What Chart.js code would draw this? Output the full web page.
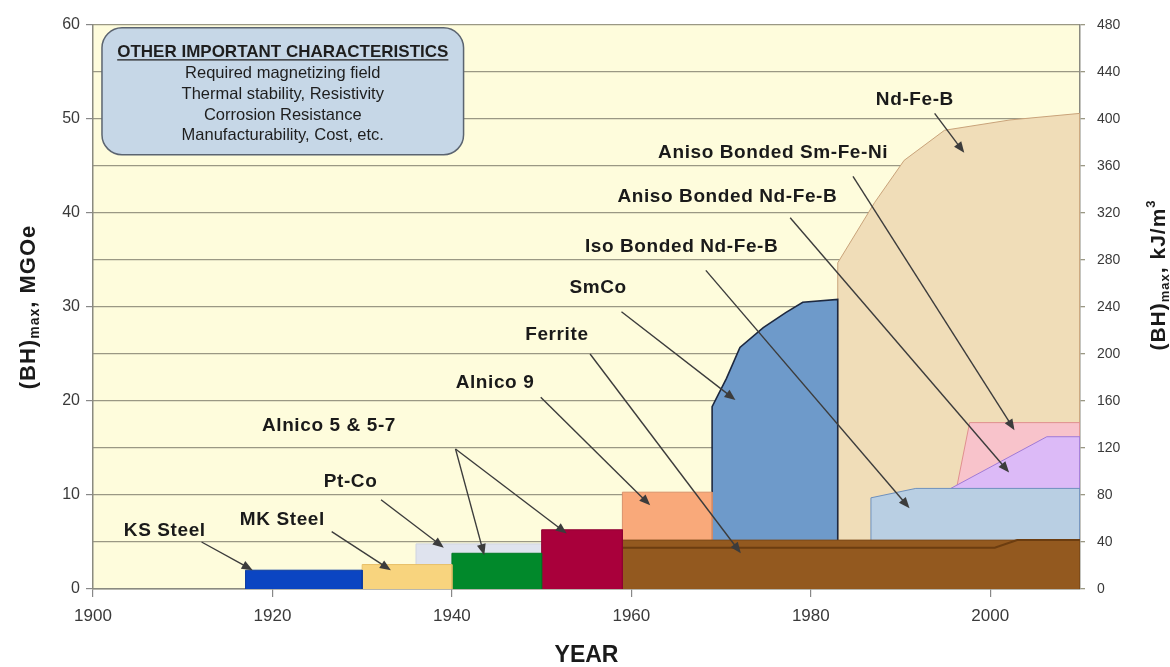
<!DOCTYPE html>
<html>
<head>
<meta charset="utf-8">
<script src="https://cdn.jsdelivr.net/npm/chart.js@4/dist/chart.umd.min.js"></script>
<style>
  html, body { margin: 0; padding: 0; background: #fff; }
</style>
</head>
<body>
<canvas id="chart" width="1170" height="667"></canvas>
<script>
// axis ticks
const xTicks = [1900, 1920, 1940, 1960, 1980, 2000];
const leftTicks = [0, 10, 20, 30, 40, 50, 60];
const rightTicks = [0, 40, 80, 120, 160, 200, 240, 280, 320, 360, 400, 440, 480];

// material regions: year / (BH)max in MGOe
const ksSteelYear = [1917, 1917, 1930, 1930];
const ksSteelBH   = [0, 2.0, 2.0, 0];
const mkSteelYear = [1930, 1930, 1940, 1940];
const mkSteelBH   = [0, 2.6, 2.6, 0];
const ptCoYear = [1936, 1936, 1950, 1950];
const ptCoBH   = [0, 4.8, 4.8, 0];
const alnico5Year = [1940, 1940, 1950, 1950];
const alnico5BH   = [0, 3.8, 3.8, 0];
const alnico57Year = [1950, 1950, 1959, 1959];
const alnico57BH   = [0, 6.3, 6.3, 0];
const alnico9Year = [1959, 1959, 1969, 1969];
const alnico9BH   = [0, 10.3, 10.3, 0];
const ferriteYear = [1959, 1959, 2010, 2010];
const ferriteBH   = [0, 5.2, 5.2, 0];
const ferriteLineYear = [1959, 2000.5, 2003, 2010];
const ferriteLineBH   = [4.4, 4.4, 5.2, 5.2];
const smcoYear = [1969, 1969, 1970.6, 1972.1, 1974.7, 1977.2, 1979.1, 1983, 1983];
const smcoBH   = [0, 19.4, 22.4, 25.7, 27.8, 29.4, 30.5, 30.8, 0];
const ndfebYear = [1983, 1983, 1987.1, 1990.4, 1994.9, 2002.2, 2010, 2010];
const ndfebBH   = [0, 34.7, 41.1, 45.6, 48.8, 49.9, 50.6, 0];
const isoYear = [1986.7, 1986.7, 1991.7, 2010, 2010];
const isoBH   = [0, 9.7, 10.7, 10.7, 0];
const anisoNdYear = [1995.6, 2006.3, 2010, 2010];
const anisoNdBH   = [10.7, 16.2, 16.2, 0];
const smFeNiYear = [1996.3, 1997.7, 2010, 2010];
const smFeNiBH   = [11.0, 17.7, 17.7, 0];

// labels and arrows
const labelText = ['KS Steel', 'MK Steel', 'Pt-Co', 'Alnico 5 & 5-7', 'Alnico 9', 'Ferrite', 'SmCo',
  'Iso Bonded Nd-Fe-B', 'Aniso Bonded Nd-Fe-B', 'Aniso Bonded Sm-Fe-Ni', 'Nd-Fe-B'];
const labelYear = [1908, 1921.1, 1928.7, 1926.3, 1944.8, 1951.7, 1956.3, 1965.6, 1970.7, 1975.8, 1991.6];
const labelBH   = [6.2, 7.4, 11.4, 17.4, 21.9, 27.0, 32.0, 36.4, 41.7, 46.4, 52.0];

const arrowYear0 = [1912.1, 1926.6, 1932.1, 1940.4, 1940.4, 1949.9, 1955.4, 1958.9, 1968.3, 1977.7, 1984.7, 1993.8];
const arrowBH0   = [5.0, 6.1, 9.5, 14.9, 14.9, 20.4, 25.0, 29.5, 33.9, 39.5, 43.9, 50.6];
const arrowYear1 = [1917.8, 1933.2, 1939.1, 1943.6, 1952.8, 1962.1, 1972.2, 1971.6, 1991.0, 2002.1, 2002.7, 1997.1];
const arrowBH1   = [2.0, 2.0, 4.4, 3.6, 5.9, 8.9, 3.8, 20.1, 8.6, 12.4, 16.9, 46.4];

// text box
const boxTitle = 'OTHER IMPORTANT CHARACTERISTICS';
const boxLines = ['Required magnetizing field', 'Thermal stability, Resistivity',
  'Corrosion Resistance', 'Manufacturability, Cost, etc.'];
const boxYear = [1901, 1941.3];
const boxBH = [59.7, 46.2];

const FONT = "'Liberation Sans', Arial, sans-serif";

function pts(xs, ys) {
  return xs.map((x, i) => ({ x: x, y: ys[i] }));
}

// front first: dataset 0 is painted on top
const layers = [
  { label: 'KS Steel', data: pts(ksSteelYear, ksSteelBH), bg: '#0b45c2', bd: '#0a3aa0' },
  { label: 'MK Steel', data: pts(mkSteelYear, mkSteelBH), bg: '#f8d47e', bd: '#e8bf68' },
  { label: 'Alnico 5', data: pts(alnico5Year, alnico5BH), bg: '#01892b', bd: '#017a24' },
  { label: 'Alnico 5-7', data: pts(alnico57Year, alnico57BH), bg: '#a9003b', bd: '#8f0032' },
  { label: 'Pt-Co', data: pts(ptCoYear, ptCoBH), bg: '#dfe3ee', bd: '#cfd4e0' },
  { label: 'Ferrite line', data: pts(ferriteLineYear, ferriteLineBH), bg: 'rgba(0,0,0,0)', bd: '#6c3d10', fill: false, width: 2 },
  { label: 'Ferrite', data: pts(ferriteYear, ferriteBH), bg: '#93591f', bd: '#7d4a18' },
  { label: 'Alnico 9', data: pts(alnico9Year, alnico9BH), bg: '#f9a97a', bd: '#d9906a' },
  { label: 'Iso Bonded Nd-Fe-B', data: pts(isoYear, isoBH), bg: '#b9cfe3', bd: '#6e90bd' },
  { label: 'Aniso Bonded Nd-Fe-B', data: pts(anisoNdYear, anisoNdBH), bg: '#dcbaf7', bd: '#a07ad6' },
  { label: 'Aniso Bonded Sm-Fe-Ni', data: pts(smFeNiYear, smFeNiBH), bg: '#f8c3cb', bd: '#e0908f' },
  { label: 'SmCo', data: pts(smcoYear, smcoBH), bg: '#6e9aca', bd: '#1d2840', width: 1.6 },
  { label: 'Nd-Fe-B', data: pts(ndfebYear, ndfebBH), bg: '#f0ddb8', bd: '#c9a37a' }
];

const datasets = layers.map(l => ({
  label: l.label,
  data: l.data,
  backgroundColor: l.bg,
  borderColor: l.bd,
  borderWidth: l.width || 1,
  fill: l.fill === false ? false : 'origin',
  pointRadius: 0,
  tension: 0,
  yAxisID: 'y'
}));

function drawArrow(ctx, x0, y0, x1, y1) {
  const ang = Math.atan2(y1 - y0, x1 - x0);
  const len = 11, half = 4.5;
  ctx.beginPath();
  ctx.moveTo(x0, y0);
  ctx.lineTo(x1 - Math.cos(ang) * len * 0.8, y1 - Math.sin(ang) * len * 0.8);
  ctx.stroke();
  ctx.beginPath();
  ctx.moveTo(x1, y1);
  ctx.lineTo(x1 - Math.cos(ang) * len - Math.sin(ang) * half, y1 - Math.sin(ang) * len + Math.cos(ang) * half);
  ctx.lineTo(x1 - Math.cos(ang) * len + Math.sin(ang) * half, y1 - Math.sin(ang) * len - Math.cos(ang) * half);
  ctx.closePath();
  ctx.fill();
}

// text pieces (with sub/superscripts) centred at (cx, cy), rotated -90deg
function drawRichVertical(ctx, parts, cx, cy) {
  ctx.save();
  ctx.translate(cx, cy);
  ctx.rotate(-Math.PI / 2);
  ctx.letterSpacing = '1px';
  let total = 0;
  parts.forEach(p => { ctx.font = p.font; total += ctx.measureText(p.text).width; });
  let x = -total / 2;
  ctx.textBaseline = 'middle';
  ctx.textAlign = 'left';
  parts.forEach(p => {
    ctx.font = p.font;
    ctx.fillText(p.text, x, p.dy || 0);
    x += ctx.measureText(p.text).width;
  });
  ctx.restore();
}

const decorPlugin = {
  id: 'decor',
  beforeDraw(chart) {
    const { ctx, chartArea: a } = chart;
    ctx.save();
    ctx.fillStyle = '#fefcdc';
    ctx.fillRect(a.left, a.top, a.right - a.left, a.bottom - a.top);
    ctx.restore();
  },
  afterDatasetsDraw(chart) {
    const { ctx, scales } = chart;
    const sx = scales.x, sy = scales.y;
    ctx.save();

    // info box
    const bx0 = sx.getPixelForValue(boxYear[0]), bx1 = sx.getPixelForValue(boxYear[1]);
    const by0 = sy.getPixelForValue(boxBH[0]), by1 = sy.getPixelForValue(boxBH[1]);
    ctx.beginPath();
    ctx.roundRect(bx0, by0, bx1 - bx0, by1 - by0, 20);
    ctx.fillStyle = '#c6d7e7';
    ctx.fill();
    ctx.lineWidth = 1.5;
    ctx.strokeStyle = '#5b6470';
    ctx.stroke();

    const bcx = (bx0 + bx1) / 2;
    ctx.fillStyle = '#1e1e1e';
    ctx.textAlign = 'center';
    ctx.textBaseline = 'middle';
    ctx.font = 'bold 17px ' + FONT;
    const ty = by0 + 24;
    ctx.fillText(boxTitle, bcx, ty);
    const tw = ctx.measureText(boxTitle).width;
    ctx.beginPath();
    ctx.moveTo(bcx - tw / 2, ty + 8);
    ctx.lineTo(bcx + tw / 2, ty + 8);
    ctx.lineWidth = 1.2;
    ctx.strokeStyle = '#1e1e1e';
    ctx.stroke();
    ctx.font = '16.5px ' + FONT;
    boxLines.forEach((t, i) => ctx.fillText(t, bcx, ty + 22 + i * 20.7));

    // arrows
    ctx.strokeStyle = '#3c3c3c';
    ctx.fillStyle = '#3c3c3c';
    ctx.lineWidth = 1.4;
    arrowYear0.forEach((v, i) => {
      drawArrow(ctx, sx.getPixelForValue(v), sy.getPixelForValue(arrowBH0[i]),
        sx.getPixelForValue(arrowYear1[i]), sy.getPixelForValue(arrowBH1[i]));
    });

    // material labels
    ctx.fillStyle = '#1a1a1a';
    ctx.font = 'bold 19px ' + FONT;
    ctx.letterSpacing = '0.6px';
    ctx.textAlign = 'center';
    ctx.textBaseline = 'middle';
    labelText.forEach((t, i) => {
      ctx.fillText(t, sx.getPixelForValue(labelYear[i]), sy.getPixelForValue(labelBH[i]));
    });
    ctx.letterSpacing = '0px';

    // axis titles
    ctx.fillStyle = '#1a1a1a';
    const a = chart.chartArea;
    drawRichVertical(ctx, [
      { text: '(BH)', font: 'bold 22px ' + FONT },
      { text: 'max', font: 'bold 14px ' + FONT, dy: 6 },
      { text: ', MGOe', font: 'bold 22px ' + FONT }
    ], a.left - 64, (a.top + a.bottom) / 2);
    drawRichVertical(ctx, [
      { text: '(BH)', font: 'bold 21px ' + FONT },
      { text: 'max', font: 'bold 13px ' + FONT, dy: 6 },
      { text: ', kJ/m', font: 'bold 21px ' + FONT },
      { text: '3', font: 'bold 13px ' + FONT, dy: -8 }
    ], a.right + 79, a.top + 250);

    ctx.font = 'bold 23px ' + FONT;
    ctx.textAlign = 'center';
    ctx.textBaseline = 'middle';
    ctx.fillText('YEAR', (a.left + a.right) / 2, a.bottom + 67);
    ctx.restore();
  }
};

const ctx = document.getElementById('chart').getContext('2d');
new Chart(ctx, {
  type: 'line',
  data: { datasets: datasets },
  options: {
    responsive: false,
    animation: false,
    layout: { padding: { top: 25, left: 0, right: 0, bottom: 0 } },
    plugins: {
      legend: { display: false },
      tooltip: { enabled: false }
    },
    scales: {
      x: {
        type: 'linear',
        min: 1900,
        max: 2010,
        afterBuildTicks: s => { s.ticks = xTicks.map(v => ({ value: v })); },
        afterFit: s => { s.height = 78; },
        grid: { drawOnChartArea: false, tickLength: 8, color: '#888', lineWidth: 1.2 },
        border: { color: '#8a8a80', width: 1.5 },
        ticks: { color: '#3a3a3a', font: { family: FONT, size: 17 }, padding: 9, maxRotation: 0,
          callback: v => String(v) }
      },
      y: {
        position: 'left',
        min: 0,
        max: 60,
        afterBuildTicks: s => { s.ticks = leftTicks.map(v => ({ value: v })); },
        afterFit: s => { s.width = 93; },
        grid: { drawOnChartArea: false, tickLength: 7, color: '#888', lineWidth: 1.2 },
        border: { color: '#8a8a80', width: 1.5 },
        ticks: { color: '#3a3a3a', font: { family: FONT, size: 16 }, padding: 6 }
      },
      y2: {
        position: 'right',
        min: 0,
        max: 480,
        afterBuildTicks: s => { s.ticks = rightTicks.map(v => ({ value: v })); },
        afterFit: s => { s.width = 90; },
        grid: { drawOnChartArea: true, tickLength: 5, color: '#9a9884', lineWidth: 1.3 },
        border: { color: '#8a8a80', width: 1.5 },
        ticks: { color: '#3a3a3a', font: { family: FONT, size: 14 }, padding: 12 }
      }
    }
  },
  plugins: [decorPlugin]
});
</script>
</body>
</html>
